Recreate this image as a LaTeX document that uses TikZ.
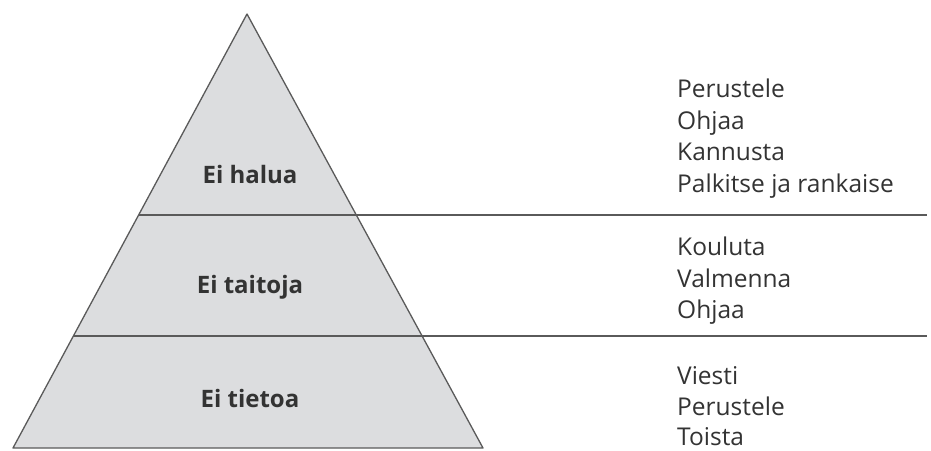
\documentclass[tikz,border=0pt]{standalone}
\usepackage{fontspec}
\setmainfont{Open Sans}
\definecolor{pyrfill}{HTML}{DCDDDF}
\definecolor{linec}{HTML}{5A5A5A}
\definecolor{txt}{HTML}{333333}
\begin{document}
\begin{tikzpicture}[x=1pt,y=-1pt,
  level/.style={font=\fontsize{24}{28}\selectfont\bfseries, text=txt, anchor=base, inner sep=0pt},
  action/.style={font=\fontsize{24.5}{30}\selectfont, text=txt, anchor=base west, inner sep=0pt},
  sep/.style={draw=linec, line width=1.3pt}]
\useasboundingbox (0,0) rectangle (931,450);
\coordinate (apex) at (247,14);
\coordinate (bl) at (13,448);
\coordinate (br) at (483,448);
\coordinate (l1) at (138.6,215);
\coordinate (r1) at (927,215);
\coordinate (l2) at (73.4,336);
\coordinate (r2) at (927,336);
\fill[pyrfill] (apex) -- (br) -- (bl) -- cycle;
\draw[sep, line join=round] (apex) -- (br) -- (bl) -- cycle;
\draw[sep] (l1) -- (r1);
\draw[sep] (l2) -- (r2);
\node[level] (halua) at (250,183) {Ei halua};
\node[level] (taitoja) at (250,293) {Ei taitoja};
\node[level] (tietoa) at (250,407) {Ei tietoa};
\node[action] (a11) at (677,97) {Perustele};
\node[action] (a12) at (677,129) {Ohjaa};
\node[action] (a13) at (677,160) {Kannusta};
\node[action] (a14) at (677,192) {Palkitse ja rankaise};
\node[action] (a21) at (677,255) {Kouluta};
\node[action] (a22) at (677,287) {Valmenna};
\node[action] (a23) at (677,318) {Ohjaa};
\node[action] (a31) at (677,384) {Viesti};
\node[action] (a32) at (677,415) {Perustele};
\node[action] (a33) at (677,445) {Toista};
\end{tikzpicture}
\end{document}
